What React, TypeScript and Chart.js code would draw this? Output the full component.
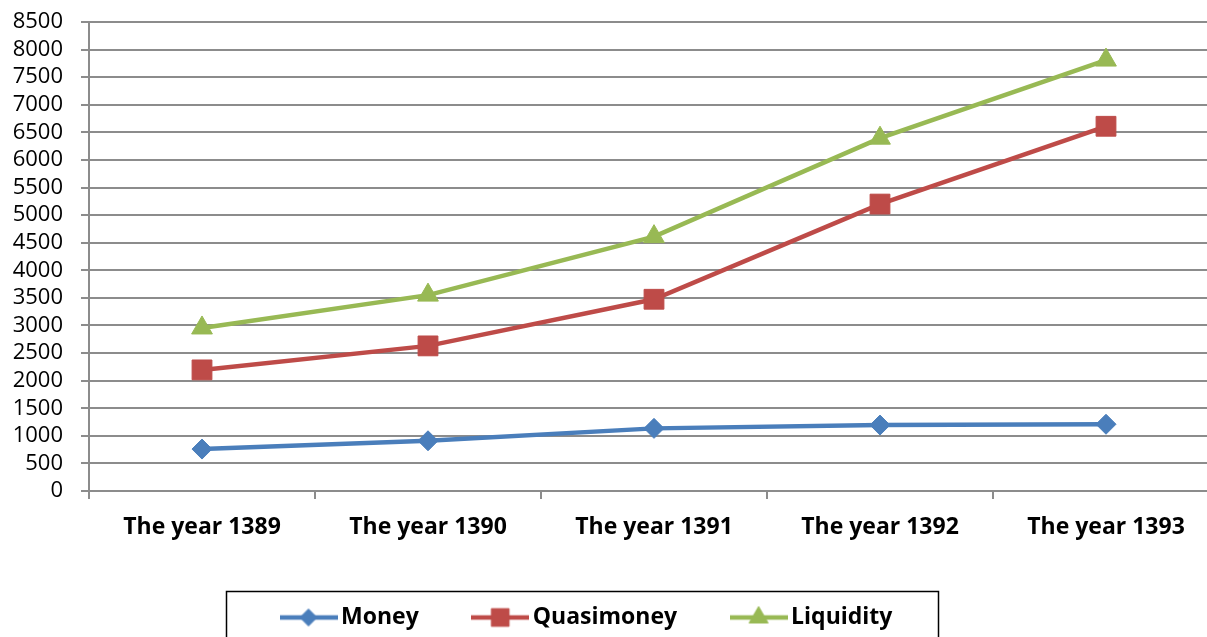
import React, { useEffect, useRef } from "react";
import { Chart, registerables } from "chart.js";
import { drawPoint } from "chart.js/helpers";

Chart.register(...registerables);

// ---- data ----
const categories = ["The year 1389", "The year 1390", "The year 1391", "The year 1392", "The year 1393"];
const moneyValues = [760, 910, 1135, 1195, 1210];
const quasimoneyValues = [2195, 2630, 3475, 5200, 6610];
const liquidityValues = [2955, 3550, 4610, 6395, 7810];
const seriesNames = ["Money", "Quasimoney", "Liquidity"];
const yMin = 0;
const yMax = 8500;
const yStep = 500;

const COLORS = ["#4A7EBB", "#BE4B48", "#98B954"];
const STYLES = ["rectRot", "rect", "triangle"];
const RADII = [10, 14, 12];
const LEGEND_RADII = [8.5, 12.5, 11];

const FONT = "'Open Sans', 'Liberation Sans', sans-serif";
const GRID = "#8c8c8c";
const CANVAS_W = 1219;
const CANVAS_H = 639;

function makeIcon(color: string, style: string, radius: number) {
  const c = document.createElement("canvas");
  c.width = 58;
  c.height = 26;
  const ctx = c.getContext("2d")!;
  ctx.strokeStyle = color;
  ctx.lineWidth = 4.5;
  ctx.beginPath();
  ctx.moveTo(0, 13);
  ctx.lineTo(58, 13);
  ctx.stroke();
  ctx.fillStyle = color;
  ctx.strokeStyle = color;
  ctx.lineWidth = 1;
  drawPoint(ctx, { pointStyle: style, radius, rotation: 0, borderWidth: 1 } as any, 29, 13);
  return c;
}

const zeroPad = (s: any) => {
  s.paddingTop = 0;
  s.paddingBottom = 0;
  s.paddingLeft = 0;
  s.paddingRight = 0;
};

const legendBoxPlugin = {
  id: "legendBox",
  afterLayout(chart: any) {
    const lg = chart.legend;
    if (lg) {
      lg.left = 227;
      lg.right = CANVAS_W;
      lg.width = CANVAS_W - 227;
    }
  },
  afterDraw(chart: any) {
    const ctx = chart.ctx;
    ctx.save();
    ctx.strokeStyle = "#000";
    ctx.lineWidth = 1.5;
    ctx.strokeRect(226.5, 591.5, 712, 100);
    ctx.restore();
  },
};

export default function App() {
  const ref = useRef<HTMLCanvasElement>(null);
  useEffect(() => {
    if (!ref.current) return;
    const values = [moneyValues, quasimoneyValues, liquidityValues];
    const icons = seriesNames.map((_, i) => makeIcon(COLORS[i], STYLES[i], LEGEND_RADII[i]));
    const chart = new Chart(ref.current, {
      type: "line",
      data: {
        labels: categories,
        datasets: seriesNames.map((name, i) => ({
          label: name,
          data: values[i],
          borderColor: COLORS[i],
          backgroundColor: COLORS[i],
          borderWidth: 4.5,
          pointStyle: STYLES[i] as any,
          pointRadius: RADII[i],
          pointBorderWidth: 1,
          pointBackgroundColor: COLORS[i],
          pointBorderColor: COLORS[i],
          tension: 0,
          fill: false,
        })),
      },
      options: {
        responsive: false,
        maintainAspectRatio: false,
        animation: false,
        devicePixelRatio: 1,
        layout: { autoPadding: false, padding: { top: 22, left: 0, right: 0, bottom: 0 } },
        scales: {
          x: {
            type: "category",
            offset: true,
            grid: {
              offset: true,
              drawOnChartArea: false,
              drawTicks: true,
              tickLength: 8,
              color: GRID,
              lineWidth: 2,
            },
            border: { color: GRID, width: 2 },
            ticks: {
              font: { family: FONT, size: 23, weight: "bold" },
              color: "#000",
              padding: 15,
              maxRotation: 0,
              autoSkip: false,
            },
            afterFit: (s: any) => {
              s.height = 54.5;
              zeroPad(s);
            },
          },
          y: {
            min: yMin,
            max: yMax,
            ticks: {
              stepSize: yStep,
              autoSkip: false,
              font: { family: FONT, size: 22 },
              color: "#000",
              padding: 18,
              callback: (v: any) => String(v),
            },
            grid: { color: GRID, lineWidth: 2, tickLength: 8 },
            border: { color: GRID, width: 2 },
            afterFit: (s: any) => {
              s.width = 89;
              zeroPad(s);
            },
          },
        },
        plugins: {
          tooltip: { enabled: false },
          legend: {
            position: "bottom",
            align: "start",
            labels: {
              usePointStyle: true,
              pointStyleWidth: 42,
              padding: 60.5,
              color: "#000",
              font: { family: FONT, size: 23, weight: "bold" },
              generateLabels: (ch: any) =>
                ch.data.datasets.map((ds: any, i: number) => ({
                  text: ds.label,
                  pointStyle: icons[i],
                  fillStyle: ds.borderColor,
                  strokeStyle: ds.borderColor,
                  lineWidth: 0,
                  hidden: false,
                  datasetIndex: i,
                })),
            },
          },
        },
      } as any,
      plugins: [legendBoxPlugin],
    });
    return () => chart.destroy();
  }, []);
  return (
    <div
      style={{
        position: "fixed",
        left: 0,
        top: 0,
        width: 1207,
        height: 637,
        overflow: "hidden",
        background: "#fff",
      }}
    >
      <div style={{ width: CANVAS_W, height: CANVAS_H }}>
        <canvas
          ref={ref}
          width={CANVAS_W}
          height={CANVAS_H}
          style={{ display: "block", width: CANVAS_W, height: CANVAS_H }}
        />
      </div>
    </div>
  );
}
